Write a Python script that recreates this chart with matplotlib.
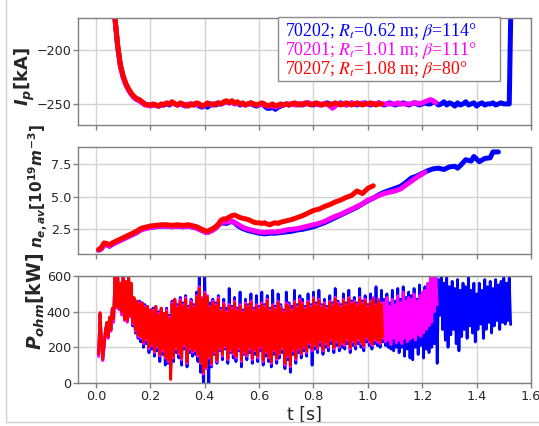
import numpy as np
import matplotlib
matplotlib.use("Agg")
import matplotlib.pyplot as plt
from matplotlib.lines import Line2D
from matplotlib.patches import Rectangle

# bold sans mathtext for the axis labels
plt.rcParams["mathtext.fontset"] = "custom"
plt.rcParams["mathtext.it"] = "DejaVu Sans:italic:bold"
plt.rcParams["mathtext.rm"] = "DejaVu Sans:bold"
plt.rcParams["mathtext.bf"] = "DejaVu Sans:bold"

# ---------------- data ----------------
shots = ["70202", "70201", "70207"]
r_t = ["0.62", "1.01", "1.08"]
beta = ["114", "111", "80"]
colors = ["#0000ff", "#ff00ff", "#ff0000"]

# plasma current [kA], sampled every 10 ms starting at 60 ms
ip_t0, ip_dt = 0.06, 0.01
ip_blue = [
    -146, -171, -197, -215, -225, -232, -237, -241, -244, -246,
    -247, -249, -250, -251, -251, -251, -251, -252, -251, -251,
    -250, -251, -249, -250, -251, -250, -251, -252, -251, -250,
    -251, -250, -252, -253, -251, -253, -251, -250, -251, -250,
    -250, -249, -248, -249, -248, -250, -249, -251, -250, -251,
    -250, -250, -251, -252, -251, -250, -252, -254, -254, -253,
    -255, -253, -252, -251, -250, -251, -250, -250, -251, -250,
    -251, -250, -249, -250, -251, -250, -250, -251, -250, -249,
    -250, -251, -250, -250, -249, -250, -251, -250, -249, -250,
    -251, -250, -250, -249, -250, -251, -250, -250, -249, -250,
    -251, -250, -249, -250, -251, -250, -250, -249, -250, -251,
    -250, -249, -250, -251, -250, -249, -250, -250, -248, -249,
    -251, -250, -248, -251, -249, -250, -252, -249, -251, -250,
    -248, -251, -250, -249, -252, -250, -249, -251, -250, -250,
    -249, -251, -250, -249, -250, -250, -250, -100,
]
ip_magenta = [
    -146, -171, -197, -215, -225, -232, -237, -241, -244, -246,
    -247, -249, -251, -251, -252, -251, -251, -252, -251, -250,
    -250, -250, -249, -250, -251, -250, -251, -251, -250, -251,
    -250, -251, -250, -252, -251, -250, -250, -251, -250, -249,
    -250, -249, -248, -249, -248, -250, -249, -250, -250, -251,
    -250, -249, -250, -251, -251, -250, -251, -252, -252, -251,
    -253, -252, -251, -251, -250, -250, -250, -251, -250, -250,
    -250, -250, -249, -250, -250, -250, -251, -250, -250, -250,
    -252, -254, -252, -250, -250, -250, -251, -250, -249, -250,
    -250, -250, -249, -250, -250, -250, -250, -250, -249, -250,
    -250, -250, -250, -250, -250, -249, -250, -250, -250, -250,
    -250, -249, -249, -250, -249, -248, -247, -246, -247, -249,
]
ip_red = [
    -145, -170, -196, -214, -224, -231, -236, -240, -243, -245,
    -246, -248, -250, -251, -251, -250, -251, -252, -250, -251,
    -249, -250, -248, -250, -251, -249, -250, -251, -252, -250,
    -251, -249, -250, -252, -251, -249, -250, -251, -250, -249,
    -250, -248, -247, -249, -247, -249, -248, -250, -249, -251,
    -250, -249, -250, -251, -250, -249, -250, -252, -251, -250,
    -252, -251, -250, -251, -250, -251, -250, -249, -250, -251,
    -250, -249, -250, -251, -250, -249, -250, -251, -250, -250,
    -251, -250, -249, -250, -251, -250, -249, -250, -251, -250,
    -249, -250, -251, -250, -250, -249, -250, -251, -250, -250,
]

# line-averaged density [1e19 m^-3]
ne_t_early = [0.01, 0.02, 0.03, 0.04, 0.05, 0.06, 0.07, 0.08, 0.09, 0.10,
              0.11, 0.12, 0.13, 0.14, 0.15, 0.16, 0.17, 0.18, 0.19, 0.20,
              0.22, 0.24, 0.26, 0.28, 0.30, 0.32, 0.34, 0.36, 0.37, 0.38,
              0.39, 0.40, 0.41, 0.42, 0.43, 0.44, 0.45]
ne_red_early = [0.95, 1.1, 1.45, 1.4, 1.3, 1.45, 1.55, 1.65, 1.75, 1.85,
                1.95, 2.05, 2.15, 2.25, 2.35, 2.5, 2.6, 2.65, 2.7, 2.75,
                2.8, 2.85, 2.85, 2.8, 2.85, 2.8, 2.85, 2.75, 2.7, 2.6,
                2.5, 2.4, 2.35, 2.45, 2.55, 2.7, 2.9]
ne_low_early = [0.9, 1.0, 1.35, 1.3, 1.2, 1.35, 1.45, 1.55, 1.65, 1.75,
                1.85, 1.95, 2.05, 2.15, 2.25, 2.4, 2.5, 2.55, 2.6, 2.65,
                2.7, 2.75, 2.75, 2.7, 2.75, 2.7, 2.75, 2.65, 2.6, 2.5,
                2.4, 2.3, 2.25, 2.35, 2.45, 2.6, 2.8]

ne_red_t = [0.46, 0.47, 0.48, 0.49, 0.50, 0.51, 0.52, 0.53, 0.54, 0.55,
            0.56, 0.57, 0.58, 0.59, 0.60, 0.61, 0.62, 0.63, 0.64, 0.65,
            0.66, 0.67, 0.68, 0.70, 0.72, 0.74, 0.76, 0.78, 0.80, 0.82,
            0.84, 0.86, 0.88, 0.90, 0.92, 0.94, 0.96, 0.98, 1.00, 1.02]
ne_red_late = [3.2, 3.3, 3.3, 3.45, 3.55, 3.6, 3.5, 3.4, 3.35, 3.3,
               3.25, 3.15, 3.05, 3.0, 3.0, 2.95, 3.0, 2.9, 2.85, 2.95,
               3.0, 2.95, 3.05, 3.15, 3.25, 3.4, 3.55, 3.75, 3.95, 4.05,
               4.25, 4.4, 4.6, 4.75, 4.95, 5.1, 5.45, 5.25, 5.65, 5.85]

ne_blue_t = [0.46, 0.48, 0.49, 0.50, 0.51, 0.52, 0.54, 0.56, 0.58, 0.60,
             0.62, 0.64, 0.66, 0.68, 0.70, 0.72, 0.74, 0.76, 0.78, 0.80,
             0.82, 0.84, 0.86, 0.88, 0.90, 0.92, 0.94, 0.96, 0.98, 1.00,
             1.02, 1.04, 1.06, 1.08, 1.10, 1.12, 1.14, 1.16, 1.18, 1.20,
             1.22, 1.24, 1.26, 1.28, 1.30, 1.32, 1.33, 1.34, 1.36, 1.38,
             1.39, 1.41, 1.43, 1.45, 1.46, 1.48]
ne_blue_late = [3.0, 2.95, 3.05, 3.1, 3.0, 2.8, 2.55, 2.4, 2.3, 2.2,
                2.15, 2.2, 2.2, 2.25, 2.3, 2.35, 2.45, 2.5, 2.6, 2.7,
                2.85, 3.0, 3.2, 3.4, 3.6, 3.8, 4.0, 4.2, 4.45, 4.7,
                4.9, 5.15, 5.35, 5.5, 5.65, 5.8, 6.1, 6.45, 6.6, 6.8,
                7.0, 7.15, 7.2, 7.1, 7.3, 7.35, 7.2, 7.4, 7.85, 7.75,
                8.1, 7.7, 7.95, 8.0, 8.45, 8.45]

ne_mag_t = [0.46, 0.48, 0.50, 0.52, 0.54, 0.56, 0.58, 0.60, 0.62, 0.64,
            0.66, 0.68, 0.70, 0.72, 0.74, 0.76, 0.78, 0.80, 0.82, 0.84,
            0.86, 0.88, 0.90, 0.92, 0.94, 0.96, 0.98, 1.00, 1.02, 1.04,
            1.06, 1.08, 1.10, 1.12, 1.14, 1.16, 1.18, 1.20, 1.21]
ne_mag_late = [3.05, 3.05, 3.15, 2.9, 2.65, 2.5, 2.4, 2.3, 2.25, 2.3,
               2.3, 2.35, 2.45, 2.5, 2.55, 2.65, 2.75, 2.85, 2.95, 3.1,
               3.3, 3.5, 3.65, 3.85, 4.05, 4.25, 4.45, 4.75, 4.9, 5.1,
               5.25, 5.35, 5.45, 5.6, 5.9, 6.2, 6.5, 6.75, 6.9]

# ohmic power [kW], sampled every 5 ms starting at 10 ms
p_t0, p_dt = 0.01, 0.005
p_blue = [
    160, 385, 245, 130, 205, 295, 335, 255, 365, 295,
    415, 350, 610, 425, 610, 415, 555, 390, 610, 355,
    565, 345, 610, 375, 555, 320, 475, 280, 455, 250,
    460, 230, 450, 200, 440, 220, 430, 170, 410, 190,
    420, 150, 430, 180, 400, 120, 420, 160, 390, 100,
    420, 110, 380, 80, 460, 120, 470, 170, 440, 140,
    480, 100, 450, 190, 490, 90, 430, 170, 470, 150,
    440, 160, 510, 120, 610, 60, 420, -10, 610, 120,
    430, -10, 450, 90, 470, 160, 450, 110, 490, 180,
    420, 130, 470, 190, 420, 110, 530, 170, 430, 140,
    480, 120, 420, 180, 510, 90, 410, 160, 470, 130,
    440, 170, 500, 110, 420, 160, 490, 120, 430, 180,
    510, 100, 440, 150, 490, 120, 420, 90, 520, 160,
    430, 110, 500, 140, 440, 170, 410, 80, 510, 130,
    450, 60, 430, 160, 520, 110, 440, 170, 490, 140,
    470, 180, 430, 150, 500, 200, 440, 100, 510, 190,
    450, 170, 520, 210, 440, 160, 470, 200, 430, 180,
    490, 220, 450, 170, 530, 210, 460, 180, 440, 200,
    500, 190, 450, 220, 520, 170, 460, 210, 480, 190,
    450, 220, 530, 200, 460, 180, 490, 230, 440, 210,
    500, 190, 470, 220, 540, 210, 460, 200, 520, 230,
    470, 210, 500, 200, 450, 190, 520, 180, 460, 200,
    530, 170, 470, 200, 540, 150, 480, 190, 510, 140,
    490, 130, 530, 200, 470, 160, 550, 210, 500, 140,
    540, 190, 480, 170, 560, 200, 520, 220, 600, 110,
    580, 380, 610, 300, 560, 240, 590, 200, 540, 270,
    570, 300, 530, 220, 580, 180, 520, 260, 560, 300,
    540, 250, 590, 320, 520, 280, 560, 230, 500, 300,
    560, 330, 520, 250, 580, 300, 540, 340, 570, 280,
    530, 320, 580, 350, 550, 300, 570, 340, 590, 330,
    560, 350, 590, 330,
]
p_magenta = [
    150, 380, 240, 125, 200, 290, 330, 250, 360, 290,
    410, 340, 610, 420, 600, 410, 550, 380, 600, 350,
    560, 340, 610, 370, 550, 330, 470, 290, 450, 260,
    450, 250, 440, 220, 430, 240, 420, 190, 400, 210,
    410, 170, 420, 200, 390, 150, 410, 180, 380, 140,
    410, 120, 370, 60, 450, 140, 460, 190, 430, 160,
    470, 130, 440, 210, 480, 110, 420, 190, 460, 170,
    430, 180, 490, 150, 540, 110, 480, 50, 510, 80,
    490, 140, 430, 100, 460, 170, 440, 120, 480, 190,
    410, 150, 450, 200, 400, 130, 440, 180, 420, 160,
    460, 140, 410, 190, 440, 120, 400, 170, 450, 150,
    430, 190, 460, 130, 410, 180, 440, 140, 420, 200,
    450, 120, 430, 170, 470, 140, 410, 110, 440, 180,
    420, 130, 460, 160, 430, 190, 400, 100, 450, 150,
    440, 90, 410, 180, 460, 130, 430, 190, 470, 160,
    450, 200, 420, 170, 460, 220, 430, 180, 480, 210,
    440, 190, 470, 230, 430, 180, 450, 220, 420, 200,
    460, 240, 440, 190, 480, 230, 450, 200, 430, 220,
    470, 210, 440, 240, 480, 190, 450, 230, 460, 210,
    440, 240, 480, 220, 450, 200, 470, 250, 430, 230,
    460, 210, 480, 240, 440, 230, 470, 220, 450, 250,
    450, 230, 480, 240, 430, 215, 470, 250, 440, 225,
    490, 240, 450, 220, 510, 250, 460, 230, 480, 245,
    470, 255, 500, 240, 460, 270, 490, 260, 510, 280,
    520, 300, 560, 320, 590, 340, 610, 400, 620, 440,
]
p_red = [
    165, 395, 250, 135, 215, 300, 340, 260, 370, 300,
    420, 360, 610, 430, 600, 420, 560, 400, 590, 360,
    570, 350, 610, 380, 560, 340, 480, 300, 460, 270,
    440, 260, 450, 230, 420, 250, 430, 200, 410, 220,
    400, 180, 430, 210, 380, 160, 420, 190, 390, 150,
    400, 130, 360, 20, 440, 150, 470, 200, 420, 170,
    460, 140, 430, 220, 470, 120, 410, 200, 450, 180,
    420, 190, 480, 160, 530, 120, 470, 60, 500, 90,
    480, 150, 420, 110, 450, 180, 430, 130, 470, 200,
    400, 160, 440, 210, 390, 140, 430, 190, 410, 170,
    450, 150, 400, 200, 430, 130, 390, 180, 440, 160,
    420, 200, 450, 140, 400, 190, 430, 150, 410, 210,
    440, 130, 420, 180, 460, 150, 400, 120, 430, 190,
    410, 140, 450, 170, 420, 200, 390, 110, 440, 160,
    430, 100, 400, 190, 450, 140, 420, 200, 460, 170,
    440, 210, 410, 180, 450, 230, 420, 190, 470, 220,
    430, 200, 460, 240, 420, 190, 440, 230, 410, 210,
    450, 250, 430, 200, 470, 240, 440, 210, 420, 230,
    460, 220, 430, 250, 470, 200, 440, 240, 450, 220,
    430, 250, 470, 230, 440, 210, 460, 260, 420, 240,
    450, 220, 470, 250, 430, 240, 460, 230, 440, 260,
]

# ---------------- figure ----------------
fig = plt.figure(figsize=(5.39, 4.26), dpi=100)
W, H = 539, 426


def axes_box(top_px, bottom_px, left_px=78, right_px=531):
    return [left_px / W, 1 - bottom_px / H, (right_px - left_px) / W, (bottom_px - top_px) / H]


ax1 = fig.add_axes(axes_box(18, 125))
ax2 = fig.add_axes(axes_box(147, 254), sharex=ax1)
ax3 = fig.add_axes(axes_box(276, 383), sharex=ax1)

spine_col = "#808080"
for ax in (ax1, ax2, ax3):
    ax.grid(True, color="#d3d3d3", lw=1.0)
    ax.set_axisbelow(True)
    for s in ax.spines.values():
        s.set_color(spine_col)
        s.set_linewidth(1.0)
    ax.tick_params(colors=spine_col, labelcolor="#262626", labelsize=9.2,
                   length=3.5, width=1.0, pad=1.5)

# top panel: plasma current
thick = 3.6
for vals, c in zip([ip_blue, ip_magenta, ip_red], colors):
    t = ip_t0 + ip_dt * np.arange(len(vals))
    ax1.plot(t, vals, color=c, lw=thick, solid_capstyle="round")
ax1.set_ylim(-269.5, -170.5)
ax1.set_yticks([-250, -200])
ax1.tick_params(labelbottom=False)

# middle panel: density
ax2.plot(ne_t_early + ne_blue_t, ne_low_early + ne_blue_late,
         color=colors[0], lw=thick, solid_capstyle="round")
ax2.plot(ne_t_early + ne_mag_t, ne_low_early + ne_mag_late,
         color=colors[1], lw=thick, solid_capstyle="round")
ax2.plot(ne_t_early + ne_red_t, ne_red_early + ne_red_late,
         color=colors[2], lw=thick, solid_capstyle="round")
ax2.set_ylim(0.6, 8.83)
ax2.set_yticks([2.5, 5.0, 7.5])
ax2.tick_params(labelbottom=False)

# bottom panel: ohmic power
for vals, c in zip([p_blue, p_magenta, p_red], colors):
    t = p_t0 + p_dt * np.arange(len(vals))
    ax3.plot(t, vals, color=c, lw=2.0)
ax3.set_ylim(0, 600)
ax3.set_yticks([0, 200, 400, 600])
ax3.set_xlim(-0.066, 1.597)
ax3.set_xticks(np.arange(0, 1.61, 0.2))
ax3.set_xticklabels(["0.0", "0.2", "0.4", "0.6", "0.8", "1.0", "1.2", "1.4", "1.6"])
ax3.set_xlabel("t [s]", fontsize=12.5, color="#262626", labelpad=2)

# axis labels
lab_col = "#262626"
ax1.set_ylabel(r"$I_p\mathrm{[kA]}$", fontsize=13, color=lab_col)
ax2.set_ylabel(r"$n_{e,av}\mathrm{[10^{19}}m^{\mathrm{-3}}\mathrm{]}$",
               fontsize=11, color=lab_col)
ax3.set_ylabel(r"$P_{ohm}\mathrm{[kW]}$", fontsize=13.5, color=lab_col)
ax1.yaxis.set_label_coords(-0.09, 0.45)
ax2.yaxis.set_label_coords(-0.062, 0.63)
ax3.yaxis.set_label_coords(-0.068, 0.76)

# shot legend
box = Rectangle((0.4415, 0.411), 0.9316 - 0.4415, 1.009 - 0.411, transform=ax1.transAxes,
                facecolor="white", edgecolor="#8c8c8c", lw=1.0, zorder=5, clip_on=False)
ax1.add_patch(box)
for i, (s, r, b, c) in enumerate(zip(shots, r_t, beta, colors)):
    ax1.text(0.457, 0.875 - 0.18 * i, f"{s}; $R_t$={r} m; $\\beta$={b}°",
             transform=ax1.transAxes, color=c, fontsize=12.8, family="Liberation Serif",
             math_fontfamily="stix", va="center", ha="left", zorder=6)

# light frame around the figure
edge = "#d0d0d0"
fig.add_artist(Line2D([5.5 / W, 5.5 / W], [1 - 422 / H, 1.0], color=edge, lw=1.0,
                      transform=fig.transFigure))
fig.add_artist(Line2D([5.5 / W, 1.0], [1 - 422 / H, 1 - 422 / H], color=edge, lw=1.0,
                      transform=fig.transFigure))

fig.savefig("out.png", dpi=100)
